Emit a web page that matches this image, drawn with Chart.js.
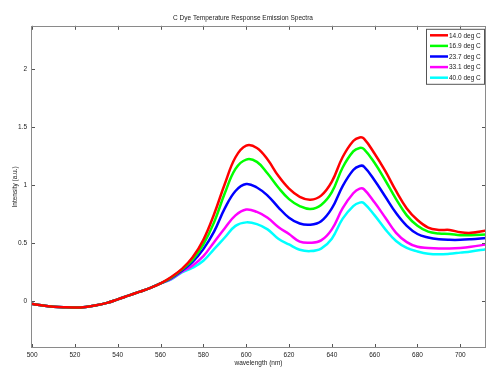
<!DOCTYPE html>
<html>
<head>
<meta charset="utf-8">
<script src="https://cdn.jsdelivr.net/npm/chart.js@4.4.1/dist/chart.umd.min.js"></script>
<style>
  html, body { margin: 0; padding: 0; background: #fff; }
</style>
</head>
<body>
<canvas id="spectra" width="490" height="368"></canvas>
<script>
// wavelength samples (nm)
const wavelengths = [499.5, 505, 510, 515, 520, 525, 530, 535, 540, 545, 550, 555, 560,
  565, 570, 575, 580, 585, 590, 595, 600, 605, 610, 615, 620, 625, 630, 635, 640, 645,
  650, 653, 655, 660, 665, 670, 675, 680, 685, 690, 695, 700, 705, 712];

// all five curves lie on top of each other below ~562 nm
const sharedStart = [-0.02, -0.035, -0.045, -0.05, -0.052, -0.047, -0.033, -0.012, 0.018,
  0.05, 0.082, 0.115, 0.155];

const labels = ['14.0 deg C', '16.9 deg C', '23.7 deg C', '33.1 deg C', '40.0 deg C'];
const colors = ['#ff0000', '#00ff00', '#0000ff', '#ff00ff', '#00ffff'];

const t14 = [0.21, 0.28, 0.38, 0.53, 0.75, 1.01, 1.24, 1.34, 1.32, 1.22, 1.08, 0.97, 0.90,
  0.875, 0.91, 1.03, 1.24, 1.38, 1.41, 1.40, 1.27, 1.12, 0.95, 0.80, 0.70, 0.635, 0.615,
  0.615, 0.595, 0.59, 0.61];
const t169 = [0.205, 0.275, 0.36, 0.49, 0.68, 0.93, 1.14, 1.22, 1.20, 1.10, 0.98, 0.88,
  0.82, 0.795, 0.83, 0.94, 1.15, 1.29, 1.32, 1.31, 1.19, 1.04, 0.88, 0.74, 0.65, 0.60,
  0.585, 0.58, 0.57, 0.57, 0.575];
const t237 = [0.20, 0.265, 0.34, 0.45, 0.60, 0.80, 0.95, 1.01, 0.98, 0.91, 0.81, 0.72,
  0.67, 0.66, 0.69, 0.80, 0.99, 1.13, 1.165, 1.16, 1.04, 0.90, 0.76, 0.65, 0.58, 0.55,
  0.535, 0.53, 0.53, 0.535, 0.545];
const t331 = [0.195, 0.255, 0.31, 0.39, 0.51, 0.63, 0.74, 0.79, 0.77, 0.72, 0.64, 0.58,
  0.515, 0.505, 0.525, 0.62, 0.80, 0.93, 0.97, 0.965, 0.85, 0.72, 0.59, 0.51, 0.47, 0.46,
  0.455, 0.455, 0.46, 0.47, 0.49];
const t400 = [0.19, 0.25, 0.29, 0.35, 0.45, 0.55, 0.65, 0.68, 0.665, 0.62, 0.54, 0.49,
  0.445, 0.433, 0.455, 0.54, 0.71, 0.82, 0.85, 0.845, 0.74, 0.62, 0.52, 0.46, 0.43, 0.41,
  0.405, 0.41, 0.42, 0.43, 0.45];

const xTicks = [500, 520, 540, 560, 580, 600, 620, 640, 660, 680, 700];
const yTicks = [0, 0.5, 1, 1.5, 2];

const FONT = { family: '"Liberation Sans", Arial, sans-serif', size: 6.5, weight: 'normal' };
const TEXT = '#222';

const series = [t14, t169, t237, t331, t400];
const datasets = series.map((vals, i) => ({
  label: labels[i],
  data: sharedStart.concat(vals).map((v, j) => ({ x: wavelengths[j], y: v })),
  borderColor: colors[i],
  borderWidth: 2.5,
  pointRadius: 0,
  tension: 0.4,
  fill: false
}));

// matlab style box with inward ticks on all four sides
const matlabAxes = {
  id: 'matlabAxes',
  afterDatasetsDraw(chart) {
    const { ctx, chartArea: a, scales: { x, y } } = chart;
    ctx.save();
    ctx.lineWidth = 1;
    ctx.strokeStyle = '#555';
    ctx.beginPath();
    xTicks.forEach(v => {
      const px = Math.round(x.getPixelForValue(v)) + 0.5;
      ctx.moveTo(px, a.bottom); ctx.lineTo(px, a.bottom - 4);
      ctx.moveTo(px, a.top); ctx.lineTo(px, a.top + 4);
    });
    yTicks.forEach(v => {
      const py = Math.round(y.getPixelForValue(v)) + 0.5;
      ctx.moveTo(a.left, py); ctx.lineTo(a.left + 4, py);
      ctx.moveTo(a.right, py); ctx.lineTo(a.right - 4, py);
    });
    ctx.stroke();
    ctx.strokeStyle = '#8a8a8a';
    ctx.strokeRect(Math.round(a.left) + 0.5, Math.round(a.top) + 0.5,
      Math.round(a.width) - 1, Math.round(a.height) - 1);
    ctx.restore();
  },
  afterDraw(chart) {
    // legend box in the top right corner
    const { ctx, chartArea: a } = chart;
    const w = 58, h = 55;
    const left = a.right - w - 2, top = a.top + 3;
    ctx.save();
    ctx.fillStyle = '#fff';
    ctx.fillRect(left, top, w, h);
    ctx.strokeStyle = '#555';
    ctx.lineWidth = 1;
    ctx.strokeRect(left + 0.5, top + 0.5, w, h);
    ctx.font = FONT.size + 'px ' + FONT.family;
    ctx.textBaseline = 'middle';
    ctx.fillStyle = TEXT;
    chart.data.datasets.forEach((ds, i) => {
      const yy = top + 6.5 + i * 10.6;
      ctx.strokeStyle = ds.borderColor;
      ctx.lineWidth = 2.5;
      ctx.beginPath();
      ctx.moveTo(left + 4, yy); ctx.lineTo(left + 22, yy);
      ctx.stroke();
      ctx.fillText(ds.label, left + 23, yy + 0.5);
    });
    ctx.restore();
  }
};

new Chart(document.getElementById('spectra'), {
  type: 'line',
  data: { datasets },
  options: {
    responsive: false,
    animation: false,
    layout: { padding: { left: 0, right: 4, top: 0, bottom: 0 } },
    plugins: {
      legend: { display: false },
      tooltip: { enabled: false },
      title: {
        display: true,
        text: 'C Dye Temperature Response Emission Spectra',
        color: TEXT,
        font: FONT,
        padding: { top: 14, bottom: 4 }
      }
    },
    scales: {
      x: {
        type: 'linear',
        min: 499.5,
        max: 712,
        afterBuildTicks: s => { s.ticks = xTicks.map(v => ({ value: v })); },
        afterFit: s => { s.height = 20; },
        grid: { display: false, drawTicks: false },
        border: { display: false },
        ticks: { color: TEXT, font: FONT, padding: 3, maxRotation: 0, autoSkip: false },
        title: { display: true, text: 'wavelength (nm)', color: TEXT, font: FONT, padding: { top: 0, bottom: 1 } }
      },
      y: {
        min: -0.4,
        max: 2.37,
        afterBuildTicks: s => { s.ticks = yTicks.map(v => ({ value: v })); },
        afterFit: s => { s.width = 31; },
        grid: { display: false, drawTicks: false },
        border: { display: false },
        ticks: { color: TEXT, font: FONT, padding: 4, callback: v => String(v) },
        title: { display: true, text: 'Intensity (a.u.)', color: TEXT, font: FONT, padding: { top: 11, bottom: 0 } }
      }
    }
  },
  plugins: [matlabAxes]
});
</script>
</body>
</html>
